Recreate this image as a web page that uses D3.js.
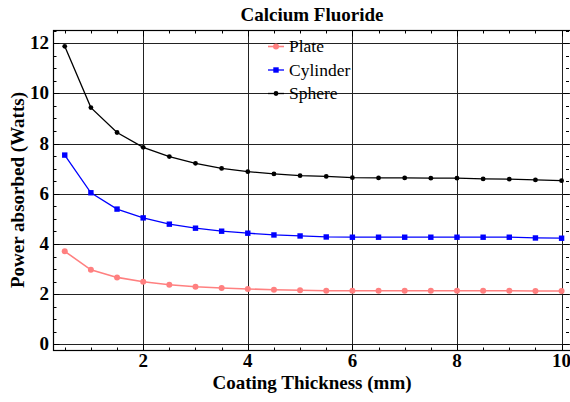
<!DOCTYPE html>
<html>
<head>
<meta charset="utf-8">
<script src="https://cdn.jsdelivr.net/npm/d3@7"></script>
<style>
  html, body { margin: 0; padding: 0; background: #fff; }
  svg { display: block; }
  text { font-family: "Liberation Serif", "Times New Roman", serif; }
</style>
</head>
<body>
<svg id="chart" width="570" height="402"></svg>
<script>
// Coating thickness (mm)
const thickness = [0.5, 1, 1.5, 2, 2.5, 3, 3.5, 4, 4.5, 5, 5.5, 6, 6.5, 7, 7.5, 8, 8.5, 9, 9.5, 10];

// Absorbed power (W) for each geometry
const plate    = [3.71, 2.97, 2.67, 2.50, 2.38, 2.30, 2.25, 2.21, 2.18, 2.16, 2.14, 2.14, 2.14, 2.14, 2.14, 2.14, 2.14, 2.14, 2.13, 2.13];
const cylinder = [7.54, 6.04, 5.39, 5.04, 4.79, 4.63, 4.51, 4.43, 4.36, 4.32, 4.28, 4.27, 4.27, 4.27, 4.27, 4.27, 4.27, 4.27, 4.24, 4.23];
const sphere   = [11.87, 9.43, 8.44, 7.85, 7.48, 7.21, 7.01, 6.88, 6.79, 6.72, 6.69, 6.64, 6.63, 6.63, 6.62, 6.62, 6.59, 6.58, 6.55, 6.52];

const seriesNames = ["Plate", "Cylinder", "Sphere"];
const xTicks = [2, 4, 6, 8, 10];
const yTicks = [0, 2, 4, 6, 8, 10, 12];

const title = "Calcium Fluoride";
const xTitle = "Coating Thickness (mm)";
const yTitle = "Power absorbed (Watts)";

const svg = d3.select("#chart");
const pLeft = 53.5, pRight = 571, pTop = 30.5, pBottom = 350.5;

const x = d3.scaleLinear().domain([0.285, 10.18]).range([pLeft, pRight]);
const y = d3.scaleLinear().domain([-0.24, 12.5]).range([pBottom, pTop]);

const series = [
  { name: seriesNames[0], values: plate,    color: "#ff8080", marker: "circle" },
  { name: seriesNames[1], values: cylinder, color: "#0000ff", marker: "square" },
  { name: seriesNames[2], values: sphere,   color: "#000000", marker: "dot" }
];

// Grid lines
const grid = svg.append("g").attr("stroke", "#222").attr("stroke-width", 1);
xTicks.forEach(v => {
  const px = Math.round(x(v)) + 0.5;
  grid.append("line").attr("x1", px).attr("x2", px).attr("y1", pTop).attr("y2", pBottom);
});
yTicks.forEach(v => {
  const py = Math.round(y(v)) + 0.5;
  grid.append("line").attr("x1", pLeft).attr("x2", pRight).attr("y1", py).attr("y2", py);
});

// Frame ticks (major every 2, minor every 0.5), pointing inward on all sides
const minorX = d3.range(0.5, 10.01, 0.5);
const minorY = d3.range(0, 12.51, 0.5);
const tk = svg.append("g").attr("stroke", "#000").attr("stroke-width", 1);
minorX.forEach(v => {
  const major = Math.abs(v / 2 - Math.round(v / 2)) < 1e-6;
  const len = major ? 6 : 3;
  const px = Math.round(x(v)) + 0.5;
  tk.append("line").attr("x1", px).attr("x2", px).attr("y1", pBottom).attr("y2", pBottom - len);
  tk.append("line").attr("x1", px).attr("x2", px).attr("y1", pTop).attr("y2", pTop + len);
});
minorY.forEach(v => {
  const major = Math.abs(v / 2 - Math.round(v / 2)) < 1e-6;
  const len = major ? 6 : 3;
  const py = Math.round(y(v)) + 0.5;
  tk.append("line").attr("x1", pLeft).attr("x2", pLeft + len).attr("y1", py).attr("y2", py);
  tk.append("line").attr("x1", pRight - 2).attr("x2", pRight - 2 - len).attr("y1", py).attr("y2", py);
});

// Frame
svg.append("rect")
  .attr("x", pLeft).attr("y", pTop)
  .attr("width", pRight - pLeft).attr("height", pBottom - pTop)
  .attr("fill", "none").attr("stroke", "#000").attr("stroke-width", 1.2);

// Tick labels
svg.append("g").selectAll("text").data(xTicks).join("text")
  .attr("x", d => x(d)).attr("y", 367)
  .attr("text-anchor", "middle")
  .attr("font-size", 19).attr("font-weight", "bold")
  .text(d => d);
svg.append("g").selectAll("text").data(yTicks).join("text")
  .attr("x", 49).attr("y", d => y(d) + 6)
  .attr("text-anchor", "end")
  .attr("font-size", 19).attr("font-weight", "bold")
  .text(d => d);

// Titles
svg.append("text").attr("x", 312).attr("y", 21)
  .attr("text-anchor", "middle").attr("font-size", 19).attr("font-weight", "bold")
  .text(title);
svg.append("text").attr("x", 312).attr("y", 389)
  .attr("text-anchor", "middle").attr("font-size", 19).attr("font-weight", "bold")
  .text(xTitle);
svg.append("text")
  .attr("transform", "translate(24,190) rotate(-90)")
  .attr("text-anchor", "middle").attr("font-size", 19).attr("font-weight", "bold")
  .text(yTitle);

// Series lines and markers
const line = d3.line().x((d, i) => x(thickness[i])).y(d => y(d));

function drawMarker(g, m, color, cx, cy) {
  if (m === "square") {
    g.append("rect").attr("x", cx - 2.7).attr("y", cy - 2.7)
      .attr("width", 5.4).attr("height", 5.4).attr("fill", color);
  } else if (m === "circle") {
    g.append("circle").attr("cx", cx).attr("cy", cy).attr("r", 3).attr("fill", color);
  } else {
    g.append("circle").attr("cx", cx).attr("cy", cy).attr("r", 2.4).attr("fill", color);
  }
}

series.forEach(s => {
  const g = svg.append("g");
  g.append("path").datum(s.values)
    .attr("d", line)
    .attr("fill", "none")
    .attr("stroke", s.color)
    .attr("stroke-width", s.marker === "circle" ? 1.6 : 1.3);
  s.values.forEach((v, i) => drawMarker(g, s.marker, s.color, x(thickness[i]), y(v)));
});

// Legend
const legend = svg.append("g");
series.forEach((s, i) => {
  const cy = 46.5 + i * 23.5;
  legend.append("line").attr("x1", 268).attr("x2", 284).attr("y1", cy).attr("y2", cy)
    .attr("stroke", s.color).attr("stroke-width", s.marker === "circle" ? 1.6 : 1.3);
  drawMarker(legend, s.marker, s.color, 276, cy);
  legend.append("text").attr("x", 289).attr("y", cy + 5.5)
    .attr("font-size", 17.5).text(s.name);
});
</script>
</body>
</html>
